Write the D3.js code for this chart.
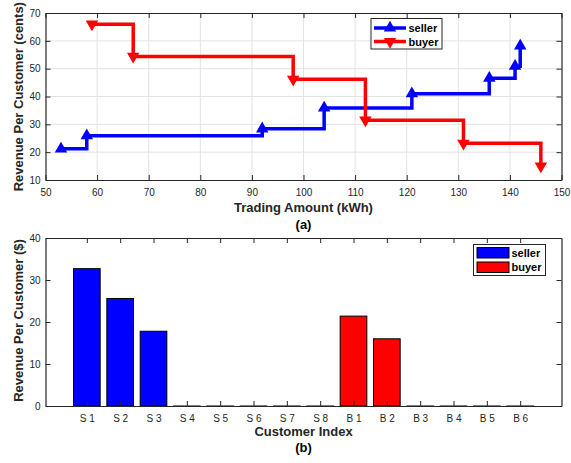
<!DOCTYPE html>
<html>
<head>
<meta charset="utf-8">
<script src="https://cdn.jsdelivr.net/npm/d3@7"></script>
<style>
  body { margin: 0; background: #fff; }
  text { font-family: "Liberation Sans", Arial, sans-serif; }
</style>
</head>
<body>
<svg width="571" height="463"></svg>
<script>
// (a) stair data
const sellerAmount = [53, 58, 92, 104, 121, 136, 141, 142];
const sellerPrice = [21.2, 25.9, 28.4, 35.9, 41.0, 46.6, 50.9, 58.2];
const buyerAmount = [59, 67, 98, 112, 131, 146];
const buyerPrice = [66.0, 54.4, 46.2, 31.5, 23.2, 15.0];
const amountTicks = [50, 60, 70, 80, 90, 100, 110, 120, 130, 140, 150];
const centTicks = [10, 20, 30, 40, 50, 60, 70];

// (b) bar data
const customers = ['S 1', 'S 2', 'S 3', 'S 4', 'S 5', 'S 6', 'S 7', 'S 8',
                   'B 1', 'B 2', 'B 3', 'B 4', 'B 5', 'B 6'];
const revenue = [32.7, 25.6, 17.8, 0, 0, 0, 0, 0, 21.4, 16.0, 0, 0, 0, 0];
const dollarTicks = [0, 10, 20, 30, 40];

const BLUE = '#0000ff', RED = '#ff0000', AX = '#262626';
const svg = d3.select('svg');

// ---------- panel (a) ----------
const a = { left: 45.5, right: 561.5, top: 13, bottom: 180 };
const xa = d3.scaleLinear().domain([50, 150]).range([a.left, a.right]);
const ya = d3.scaleLinear().domain([10, 70]).range([a.bottom, a.top]);

// grid
svg.append('g').selectAll('line').data(amountTicks.slice(1, -1)).join('line')
  .attr('x1', d => xa(d)).attr('x2', d => xa(d))
  .attr('y1', a.top).attr('y2', a.bottom)
  .attr('stroke', '#e3e3e3').attr('stroke-width', 1);
svg.append('g').selectAll('line').data(centTicks.slice(1, -1)).join('line')
  .attr('y1', d => ya(d)).attr('y2', d => ya(d))
  .attr('x1', a.left).attr('x2', a.right)
  .attr('stroke', '#e3e3e3').attr('stroke-width', 1);

function styleAxis(g) {
  g.select('.domain').attr('stroke', AX).attr('stroke-width', 1.2);
  g.selectAll('.tick line').attr('stroke', AX).attr('stroke-width', 1);
  g.selectAll('text').attr('fill', AX).style('font-size', '10px')
    .style('font-family', '"Liberation Sans", Arial, sans-serif');
}

svg.append('g').attr('transform', `translate(0,${a.bottom})`)
  .call(d3.axisBottom(xa).tickValues(amountTicks).tickSize(-5).tickPadding(9).tickSizeOuter(0))
  .call(styleAxis);
svg.append('g').attr('transform', `translate(0,${a.top})`)
  .call(d3.axisTop(xa).tickValues(amountTicks).tickSize(-5).tickFormat('').tickSizeOuter(0))
  .call(styleAxis);
svg.append('g').attr('transform', `translate(${a.left},0)`)
  .call(d3.axisLeft(ya).tickValues(centTicks).tickSize(-5).tickPadding(5).tickSizeOuter(0))
  .call(styleAxis);
svg.append('g').attr('transform', `translate(${a.right},0)`)
  .call(d3.axisRight(ya).tickValues(centTicks).tickSize(-5).tickFormat('').tickSizeOuter(0))
  .call(styleAxis);

function stairs(xs, ys) {
  const pts = [];
  xs.forEach((x, i) => {
    pts.push([x, ys[i]]);
    if (i < xs.length - 1) pts.push([xs[i + 1], ys[i]]);
  });
  return pts;
}
const line = d3.line().x(d => xa(d[0])).y(d => ya(d[1]));
const tri = d3.symbol().type(d3.symbolTriangle).size(42);

function drawSeries(xs, ys, color, down) {
  svg.append('path').datum(stairs(xs, ys))
    .attr('d', line).attr('fill', 'none')
    .attr('stroke', color).attr('stroke-width', 3.5)
    .attr('stroke-linejoin', 'miter');
  svg.append('g').selectAll('path').data(xs).join('path')
    .attr('d', tri)
    .attr('transform', (d, i) => `translate(${xa(d)},${ya(ys[i])})` + (down ? ' rotate(180)' : ''))
    .attr('fill', color).attr('stroke', color).attr('stroke-width', 1.5);
}
drawSeries(sellerAmount, sellerPrice, BLUE, false);
drawSeries(buyerAmount, buyerPrice, RED, true);

// legend (a)
const lga = svg.append('g');
lga.append('rect').attr('x', 371).attr('y', 18.5).attr('width', 71).attr('height', 30.5)
  .attr('fill', '#fff').attr('stroke', AX).attr('stroke-width', 1);
[['seller', BLUE, false, 28], ['buyer', RED, true, 41.5]].forEach(([name, c, down, y]) => {
  lga.append('line').attr('x1', 374).attr('x2', 406).attr('y1', y).attr('y2', y)
    .attr('stroke', c).attr('stroke-width', 3.5);
  lga.append('path').attr('d', tri)
    .attr('transform', `translate(390,${y})` + (down ? ' rotate(180)' : ''))
    .attr('fill', c).attr('stroke', c).attr('stroke-width', 1.5);
  lga.append('text').attr('x', 408.5).attr('y', y + 4).text(name)
    .style('font-size', '11px').style('font-weight', 'bold').attr('fill', '#000');
});

svg.append('text').attr('x', 303.5).attr('y', 211.5).attr('text-anchor', 'middle')
  .style('font-size', '13px').style('font-weight', 'bold').attr('fill', AX)
  .text('Trading Amount (kWh)');
svg.append('text').attr('x', 303.5).attr('y', 228.5).attr('text-anchor', 'middle')
  .style('font-size', '13px').style('font-weight', 'bold').attr('fill', '#000')
  .text('(a)');
svg.append('text').attr('transform', 'translate(23,96.7) rotate(-90)')
  .attr('text-anchor', 'middle')
  .style('font-size', '13px').style('font-weight', 'bold').attr('fill', AX)
  .text('Revenue Per Customer (cents)');

// ---------- panel (b) ----------
const b = { left: 45.5, right: 561.5, top: 238, bottom: 406 };
const xb = d3.scaleLinear().domain([-0.24, 15.24]).range([b.left, b.right]);
const yb = d3.scaleLinear().domain([0, 40]).range([b.bottom, b.top]);
const idx = customers.map((d, i) => i + 1);
const barW = (xb(1) - xb(0)) * 0.8;

svg.append('g').selectAll('rect').data(revenue).join('rect')
  .attr('x', (d, i) => xb(i + 1) - barW / 2)
  .attr('y', d => yb(d))
  .attr('width', barW)
  .attr('height', d => Math.max(yb(0) - yb(d), 0.01))
  .attr('fill', (d, i) => customers[i][0] === 'S' ? BLUE : RED)
  .attr('stroke', '#000').attr('stroke-width', 1);

svg.append('g').attr('transform', `translate(0,${b.bottom})`)
  .call(d3.axisBottom(xb).tickValues(idx).tickFormat(d => customers[d - 1])
    .tickSize(-5).tickPadding(9).tickSizeOuter(0))
  .call(styleAxis);
svg.append('g').attr('transform', `translate(0,${b.top})`)
  .call(d3.axisTop(xb).tickValues(idx).tickSize(-5).tickFormat('').tickSizeOuter(0))
  .call(styleAxis);
svg.append('g').attr('transform', `translate(${b.left},0)`)
  .call(d3.axisLeft(yb).tickValues(dollarTicks).tickSize(-5).tickPadding(5).tickSizeOuter(0))
  .call(styleAxis);
svg.append('g').attr('transform', `translate(${b.right},0)`)
  .call(d3.axisRight(yb).tickValues(dollarTicks).tickSize(-5).tickFormat('').tickSizeOuter(0))
  .call(styleAxis);

// legend (b)
const lgb = svg.append('g');
lgb.append('rect').attr('x', 473.5).attr('y', 244.5).attr('width', 72).attr('height', 31)
  .attr('fill', '#fff').attr('stroke', AX).attr('stroke-width', 1);
[['seller', BLUE, 247.5, 256.5], ['buyer', RED, 262, 270.5]].forEach(([name, c, y, ty]) => {
  lgb.append('rect').attr('x', 477).attr('y', y).attr('width', 32).attr('height', 10.5)
    .attr('fill', c).attr('stroke', '#000').attr('stroke-width', 1);
  lgb.append('text').attr('x', 511.5).attr('y', ty).text(name)
    .style('font-size', '11px').style('font-weight', 'bold').attr('fill', '#000');
});

svg.append('text').attr('x', 303.5).attr('y', 435.5).attr('text-anchor', 'middle')
  .style('font-size', '13px').style('font-weight', 'bold').attr('fill', AX)
  .text('Customer Index');
svg.append('text').attr('x', 303.5).attr('y', 452).attr('text-anchor', 'middle')
  .style('font-size', '13px').style('font-weight', 'bold').attr('fill', '#000')
  .text('(b)');
svg.append('text').attr('transform', 'translate(23,320.5) rotate(-90)')
  .attr('text-anchor', 'middle')
  .style('font-size', '13px').style('font-weight', 'bold').attr('fill', AX)
  .text('Revenue Per Customer ($)');
</script>
</body>
</html>
